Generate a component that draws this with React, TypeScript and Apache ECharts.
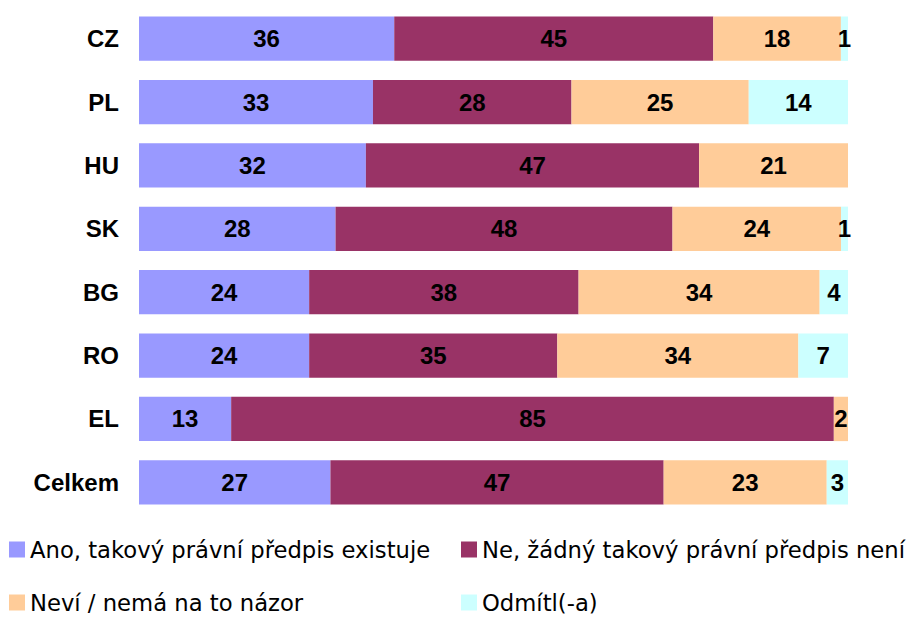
import React, { useEffect, useRef } from "react";
import * as echarts from "echarts";

const categories = ["CZ", "PL", "HU", "SK", "BG", "RO", "EL", "Celkem"];
const seriesNames = [
  "Ano, takový právní předpis existuje",
  "Ne, žádný takový právní předpis není",
  "Neví / nemá na to názor",
  "Odmítl(-a)",
];
const ano = [36, 33, 32, 28, 24, 24, 13, 27];
const ne = [45, 28, 47, 48, 38, 35, 85, 47];
const nevi = [18, 25, 21, 24, 34, 34, 2, 23];
const odmitl = [1, 14, 0, 1, 4, 7, 0, 3];
const colors = ["#9999FF", "#993366", "#FFCC99", "#CCFFFF"];

export default function App() {
  const ref = useRef<HTMLDivElement>(null);
  useEffect(() => {
    if (!ref.current) return;
    const chart = echarts.init(ref.current, null, { renderer: "svg" });
    const raw = [ano, ne, nevi, odmitl];
    const totals = categories.map((_, i) => raw.reduce((s, arr) => s + arr[i], 0));
    const series = raw.map((arr, si) => ({
      name: seriesNames[si],
      type: "bar",
      stack: "total",
      barWidth: "70%",
      itemStyle: { color: colors[si] },
      label: {
        show: true,
        position: "inside",
        color: "#000",
        fontFamily: "Liberation Sans, Arial, sans-serif",
        fontWeight: "bold",
        fontSize: 24,
        formatter: (p: any) => (arr[p.dataIndex] ? String(arr[p.dataIndex]) : ""),
      },
      data: arr.map((v, i) => (v ? (v / totals[i]) * 100 : null)),
    }));
    const legendPos = [
      { left: 9, top: 538 },
      { left: 461, top: 538 },
      { left: 9, top: 591 },
      { left: 461, top: 591 },
    ];
    chart.setOption({
      animation: false,
      backgroundColor: "#fff",
      grid: { left: 139, right: 61, top: 7, bottom: 103 },
      xAxis: { type: "value", min: 0, max: 100, show: false },
      yAxis: {
        type: "category",
        inverse: true,
        data: categories,
        axisLine: { show: false },
        axisTick: { show: false },
        axisLabel: {
          margin: 20,
          color: "#000",
          fontFamily: "Liberation Sans, Arial, sans-serif",
          fontWeight: "bold",
          fontSize: 24,
        },
      },
      legend: seriesNames.map((n, i) => ({
        data: [n],
        left: legendPos[i].left,
        top: legendPos[i].top,
        padding: 0,
        itemWidth: 16,
        itemHeight: 16,
        icon: "rect",
        itemStyle: { borderWidth: 0 },
        selectedMode: false,
        textStyle: {
          fontFamily: "DejaVu Sans",
          fontSize: 22.7,
          color: "#000",
          lineHeight: 16,
        },
      })),
      series,
    });
    return () => chart.dispose();
  }, []);
  return (
    <div
      ref={ref}
      style={{ position: "fixed", left: 0, top: 0, width: 909, height: 617 }}
    />
  );
}
